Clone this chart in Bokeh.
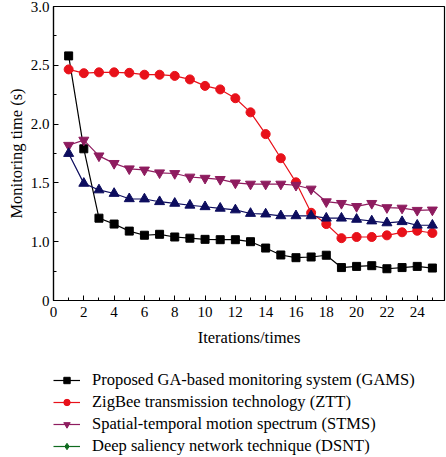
from bokeh.plotting import figure
from bokeh.layouts import column
from bokeh.models import FixedTicker, Legend, LegendItem, ColumnDataSource
from bokeh.embed import file_html
from bokeh.resources import INLINE

iterations = list(range(1, 26))
gams = [2.58, 1.79, 1.20, 1.15, 1.09, 1.055, 1.063, 1.04, 1.03, 1.02, 1.017, 1.017, 1.00, 0.946, 0.887,
        0.864, 0.87, 0.885, 0.78, 0.79, 0.796, 0.77, 0.78, 0.79, 0.776]
ztt = [2.465, 2.433, 2.44, 2.44, 2.436, 2.42, 2.42, 2.41, 2.38, 2.325, 2.295, 2.22, 2.10, 1.915, 1.71,
       1.505, 1.246, 1.15, 1.03, 1.04, 1.04, 1.054, 1.08, 1.093, 1.074]
stms = [1.82, 1.864, 1.73, 1.666, 1.62, 1.61, 1.586, 1.58, 1.55, 1.54, 1.53, 1.50, 1.49, 1.49, 1.49,
        1.48, 1.448, 1.34, 1.326, 1.30, 1.326, 1.29, 1.286, 1.267, 1.27]
dsnt = [1.75, 1.496, 1.44, 1.41, 1.365, 1.363, 1.34, 1.326, 1.31, 1.297, 1.284, 1.27, 1.24, 1.235, 1.22,
        1.22, 1.22, 1.20, 1.20, 1.19, 1.176, 1.16, 1.17, 1.14, 1.14]

series_names = [
    "Proposed GA-based monitoring system (GAMS)",
    "ZigBee transmission technology (ZTT)",
    "Spatial-temporal motion spectrum (STMS)",
    "Deep saliency network technique (DSNT)",
]
x_ticks = list(range(0, 25, 2))
x_minor = list(range(1, 26, 2))
y_ticks = [0.5, 1.0, 1.5, 2.0, 2.5, 3.0]
y_tick_labels = ["0", "1.0", "1.5", "2.0", "2.5", "3.0"]
y_minor = [0.75, 1.25, 1.75, 2.25, 2.75]

FONT = "Liberation Serif"

p = figure(frame_width=391, frame_height=294, x_range=(0, 25.8), y_range=(0.5, 3.0),
           output_backend="svg", toolbar_location=None,
           min_border_left=53, min_border_top=6, min_border_right=2, min_border_bottom=60)
p.grid.visible = False
p.outline_line_color = "black"
p.outline_line_width = 1.2
p.background_fill_color = "white"
p.border_fill_color = "white"

for ax in (p.xaxis[0], p.yaxis[0]):
    ax.axis_line_color = "black"
    ax.axis_line_width = 1.2
    ax.major_tick_in = 5
    ax.major_tick_out = 0
    ax.minor_tick_in = 3
    ax.minor_tick_out = 0
    ax.major_tick_line_color = "black"
    ax.minor_tick_line_color = "black"
    ax.major_label_text_font = FONT
    ax.major_label_text_font_size = "15px"
    ax.major_label_text_color = "black"
    ax.axis_label_text_font = FONT
    ax.axis_label_text_font_size = "16.5px"
    ax.axis_label_text_font_style = "normal"
    ax.axis_label_text_color = "black"

p.xaxis[0].ticker = FixedTicker(ticks=x_ticks, minor_ticks=x_minor)
p.yaxis[0].ticker = FixedTicker(ticks=y_ticks, minor_ticks=y_minor)
p.yaxis[0].major_label_overrides = {t: l for t, l in zip(y_ticks, y_tick_labels)}
p.xaxis[0].axis_label = "Iterations/times"
p.yaxis[0].axis_label = "Monitoring time (s)"
p.xaxis[0].major_label_standoff = 6
p.xaxis[0].axis_label_standoff = 8
p.yaxis[0].major_label_standoff = 4
p.yaxis[0].axis_label_standoff = 2

styles = [
    (gams, "black", "square", 8),
    (ztt, "#e8111a", "circle", 9),
    (stms, "#8e1c5f", "inverted_triangle", 10),
    (dsnt, "#0d0d5e", "triangle", 10),
]
for vals, col, marker, size in styles:
    src = ColumnDataSource(dict(x=iterations, y=vals))
    p.line("x", "y", source=src, line_color=col, line_width=1.2)
    p.scatter("x", "y", source=src, marker=marker, size=size, fill_color=col, line_color=col)

# legend panel (the original legend draws DSNT as a green diamond)
legend_styles = [
    ("black", "square", 8),
    ("#e8111a", "circle", 9),
    ("#8e1c5f", "inverted_triangle", 10),
    ("#0f6b1f", "diamond", 11),
]
p2 = figure(width=446, height=96, x_range=(0, 1), y_range=(0, 1),
            output_backend="svg", toolbar_location=None,
            x_axis_type=None, y_axis_type=None,
            min_border_left=51, min_border_top=10, min_border_right=2, min_border_bottom=0)
p2.grid.visible = False
p2.outline_line_color = None
nan = float("nan")
items = []
for name, (col, marker, size) in zip(series_names, legend_styles):
    src = ColumnDataSource(dict(x=[nan], y=[nan]))
    ln = p2.line("x", "y", source=src, line_color=col, line_width=1.2)
    sc = p2.scatter("x", "y", source=src, marker=marker, size=size, fill_color=col, line_color=col)
    items.append(LegendItem(label=name, renderers=[ln, sc]))

legend = Legend(items=items, location="top_left", orientation="vertical")
legend.label_text_font = FONT
legend.label_text_font_size = "16.5px"
legend.label_text_color = "black"
legend.border_line_alpha = 0
legend.background_fill_alpha = 0
legend.margin = 0
legend.padding = 0
legend.spacing = 2
legend.label_height = 20
legend.glyph_height = 16
legend.glyph_width = 27
legend.label_standoff = 12
p2.add_layout(legend, "center")

open("out.html", "w").write(file_html(column(p, p2, spacing=0), INLINE))
